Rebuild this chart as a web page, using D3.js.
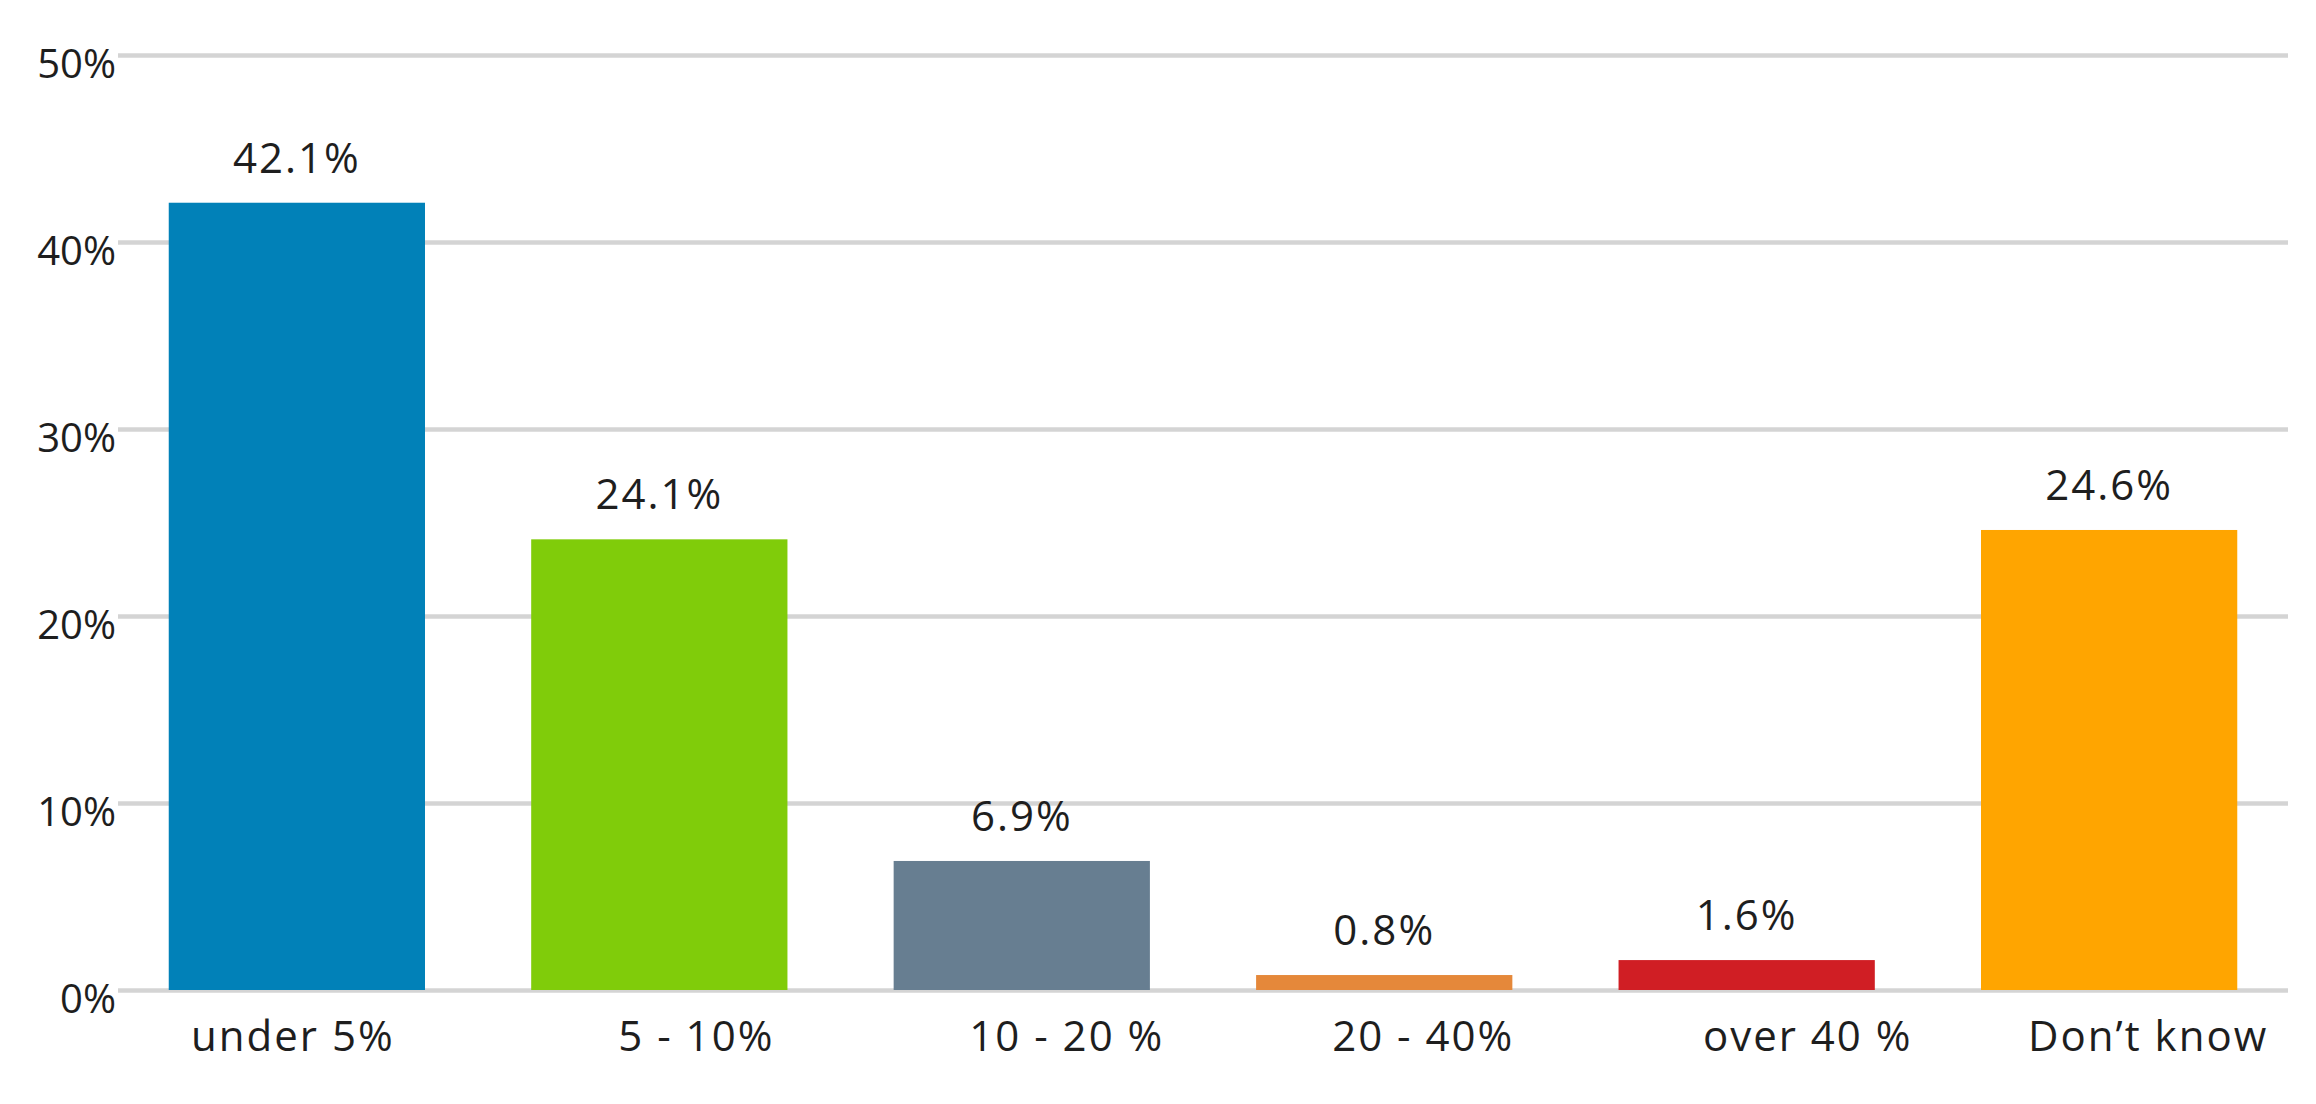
<!DOCTYPE html>
<meta charset="utf-8">
<style>
body {
  margin: 0;
  background: #fff;
}
.chart text {
  font-family: "Open Sans", sans-serif;
  fill: #1e1e1e;
}
.grid line {
  stroke: #d4d4d4;
  stroke-width: 4.5;
}
.grid text {
  font-size: 40px;
}
.xaxis text {
  font-size: 42px;
  letter-spacing: 2px;
}
.value {
  font-size: 42px;
  letter-spacing: 2px;
  text-anchor: middle;
}
</style>
<body>
<script src="https://cdn.jsdelivr.net/npm/d3@7"></script>
<script>

var categories = ["under 5%", "5 - 10%", "10 - 20 %", "20 - 40%", "over 40 %", "Don\u2019t know"];
var values = [42.1, 24.1, 6.9, 0.8, 1.6, 24.6];
var yTicks = [0, 10, 20, 30, 40, 50];
var yTickLabels = ["0%", "10%", "20%", "30%", "40%", "50%"];

// bar colours, one per category
var colors = ["#0181b8", "#80cc0a", "#677e91", "#e5883a", "#d01e24", "#ffa500"];
// the category labels in the original sit a little right of their bars
var labelNudge = [-4, 37, 45, 39, 61, 39];

var width = 2316, height = 1104;
var margin = {left: 118, right: 2288, top: 55, bottom: 990};

var svg = d3.select("body").append("svg")
    .attr("class", "chart")
    .attr("width", width)
    .attr("height", height);

var x = d3.scaleBand()
    .domain(categories)
    .range([margin.left, margin.right])
    .paddingInner(0.293)
    .paddingOuter(0.14);

var y = d3.scaleLinear()
    .domain([0, 50])
    .range([margin.bottom, margin.top]);

// gridlines + y labels
var yAxis = d3.axisLeft(y)
    .tickValues(yTicks)
    .tickSize(-(margin.right - margin.left))
    .tickPadding(2)
    .tickFormat(function(d, i) { return yTickLabels[i]; });

var grid = svg.append("g")
    .attr("class", "grid")
    .attr("transform", "translate(" + margin.left + ",0)")
    .call(yAxis);
grid.select(".domain").remove();
grid.selectAll("text").attr("dy", "0.57em");

// bars
svg.selectAll("rect.bar")
    .data(values)
    .enter().append("rect")
    .attr("class", "bar")
    .attr("x", function(d, i) { return x(categories[i]); })
    .attr("width", x.bandwidth())
    .attr("y", function(d) { return y(d); })
    .attr("height", function(d) { return y(0) - y(d); })
    .attr("fill", function(d, i) { return colors[i]; });

// value labels
svg.selectAll("text.value")
    .data(values)
    .enter().append("text")
    .attr("class", "value")
    .attr("x", function(d, i) { return x(categories[i]) + x.bandwidth() / 2; })
    .attr("y", function(d) { return y(d) - 30; })
    .text(function(d) { return d.toFixed(1) + "%"; });

// category labels
var xAxis = d3.axisBottom(x).tickSize(0);
var xg = svg.append("g")
    .attr("class", "xaxis")
    .attr("transform", "translate(0," + margin.bottom + ")")
    .call(xAxis);
xg.select(".domain").remove();
xg.selectAll("text")
    .attr("y", 61)
    .attr("dy", 0)
    .attr("dx", function(d, i) { return labelNudge[i]; });

</script>
</body>
